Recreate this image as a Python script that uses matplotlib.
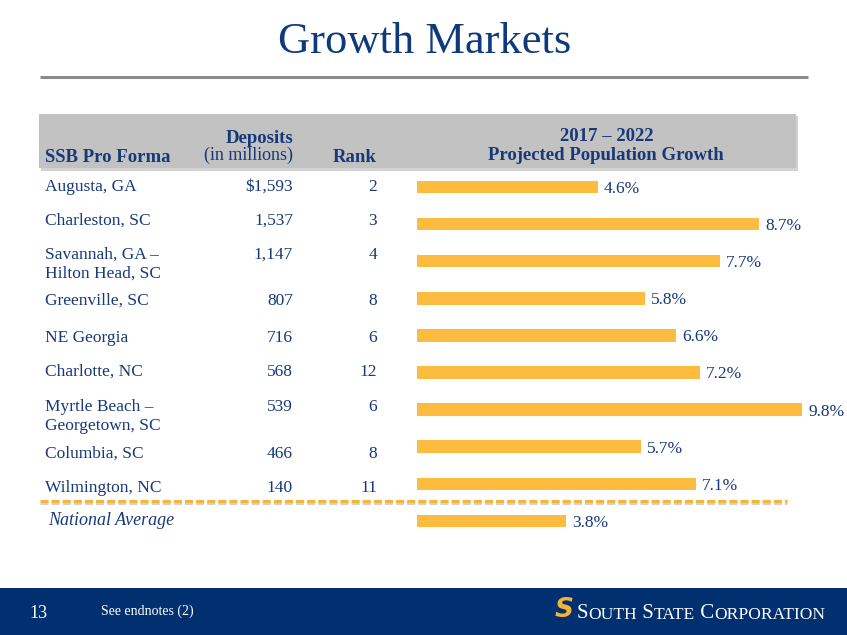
import matplotlib
matplotlib.use("Agg")
import matplotlib.pyplot as plt
from matplotlib.patches import Rectangle

plt.rcParams['font.family'] = ['Liberation Serif', 'DejaVu Serif']
plt.rcParams['lines.scale_dashes'] = False

# data
markets = ["Augusta, GA", "Charleston, SC", "Savannah, GA –\nHilton Head, SC",
           "Greenville, SC", "NE Georgia", "Charlotte, NC",
           "Myrtle Beach –\nGeorgetown, SC", "Columbia, SC", "Wilmington, NC"]
deposits = [1593, 1537, 1147, 807, 716, 568, 539, 466, 140]
ranks = [2, 3, 4, 8, 6, 12, 6, 8, 11]
growth = [4.6, 8.7, 7.7, 5.8, 6.6, 7.2, 9.8, 5.7, 7.1]
national_label = "National Average"
national_growth = 3.8

navy = '#17397a'
gold = '#fdbb3f'

W, H = 847, 635
fig = plt.figure(figsize=(W / 100, H / 100), dpi=100)

# background axes in pixel coordinates
bg = fig.add_axes([0, 0, 1, 1])
bg.set_xlim(0, W)
bg.set_ylim(H, 0)
bg.axis('off')

# title and rule
bg.text(425, 53, "Growth Markets", fontsize=32, color='#0e3a7c',
        ha='center', va='baseline')
bg.plot([40, 808], [76.5, 76.5], color='#8a8a8a', lw=2.2, solid_capstyle='butt')

# header band with shadow
bg.add_patch(Rectangle((41, 116), 757, 55, color='#9c9c9c', alpha=0.45, lw=0))
bg.add_patch(Rectangle((39, 114), 757, 54, color='#c2c2c2', lw=0))
hb = dict(fontsize=13.5, fontweight='bold', color=navy, va='baseline')
bg.text(45, 162.5, "SSB Pro Forma", ha='left', **hb)
bg.text(293, 143, "Deposits", ha='right', **hb)
bg.text(293, 160, "(in millions)", ha='right', fontsize=13, color=navy, va='baseline')
bg.text(377, 162, "Rank", ha='right', **hb)
bg.text(607, 141, "2017 – 2022", ha='center', **hb)
bg.text(606, 159.5, "Projected Population Growth", ha='center', **hb)

# table rows
row_base = [191, 225, 259, 305, 342, 376, 411, 458, 492]
for i, name in enumerate(markets):
    y = row_base[i]
    for k, line in enumerate(name.split("\n")):
        bg.text(45, y + 19 * k, line, fontsize=12.5, color=navy, va='baseline')
    dep = f"${deposits[i]:,}" if i == 0 else f"{deposits[i]:,}"
    bg.text(293, y, dep, fontsize=12.5, color=navy, ha='right', va='baseline')
    bg.text(377, y, str(ranks[i]), fontsize=12.5, color=navy, ha='right', va='baseline')
bg.text(48, 525, national_label, fontsize=13, style='italic', color=navy, va='baseline')

# dashed separator
bg.plot([40, 787], [503, 503], color='#b5b5b5', lw=2.2, alpha=0.6,
        dashes=(5.8, 2.2), solid_capstyle='butt')
bg.plot([40, 787], [501, 501], color='#f7b537', lw=2.2,
        dashes=(5.8, 2.2), dash_capstyle='butt')

# footer
bg.add_patch(Rectangle((0, 588), W, H - 588, color='#00306f', lw=0))
bg.text(29, 614, "13", fontsize=13, color='white', va='center')
bg.text(101, 611, "See endnotes (2)", fontsize=10, color='white', va='center')
bg.text(564, 610, "S", fontsize=19, fontweight='bold', style='italic',
        family='DejaVu Sans', color='#f5b335', ha='center', va='center')
pieces = [("S", 15), ("OUTH", 12.6), (" S", 15), ("TATE", 12.6),
          (" C", 15), ("ORPORATION", 12.6)]
prev = bg.text(577, 618, pieces[0][0], fontsize=pieces[0][1], color='white',
               va='baseline')
for txt, fs in pieces[1:]:
    prev = bg.annotate(txt, xy=(1, 0), xycoords=prev, fontsize=fs,
                       color='white', ha='left', va='bottom')

# bars
px_per_pct = 39.3
step = 37.1
top_c, left_px = 187, 417
y0 = top_c - step / 2
y1 = y0 + step * 10
ax = fig.add_axes([left_px / W, (H - y1) / H, (W - left_px) / W, (y1 - y0) / H])
ax.set_xlim(0, (W - left_px) / px_per_pct)
ax.set_ylim(9.5, -0.5)
ax.axis('off')
ax.patch.set_alpha(0)

vals = growth + [national_growth]
ax.barh(range(len(vals)), vals, height=12.5 / step, color=gold, lw=0)
for i, v in enumerate(vals):
    ax.annotate(f"{v:.1f}%", xy=(v, i), xytext=(6, -6), textcoords='offset pixels',
                fontsize=12.5, color=navy, ha='left', va='baseline')

fig.savefig("out.png", dpi=100)
